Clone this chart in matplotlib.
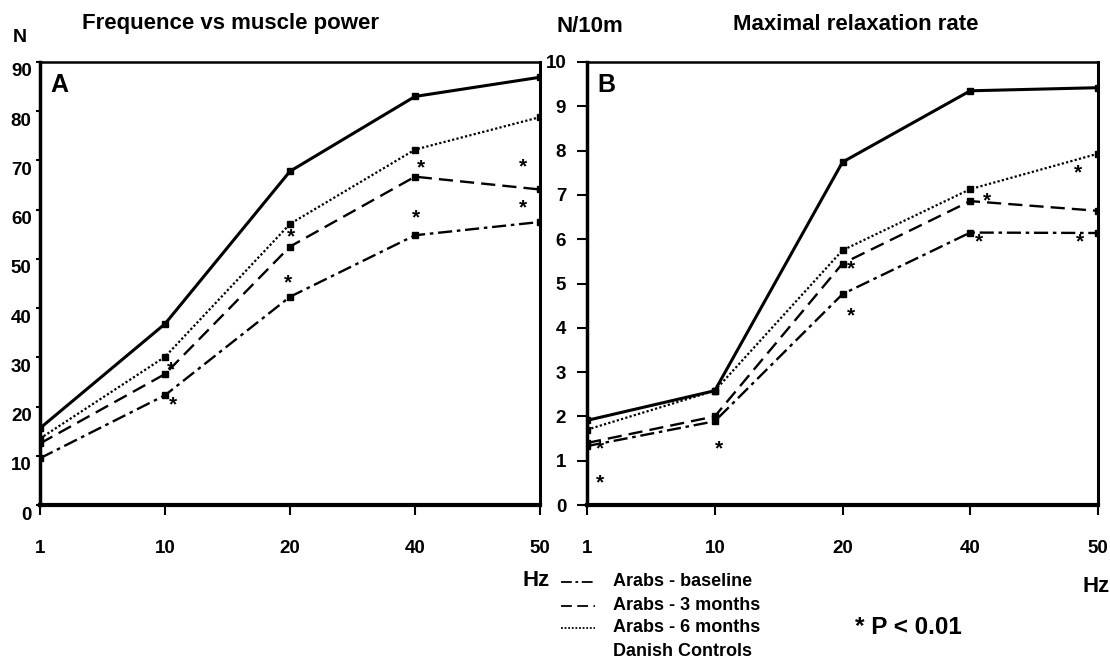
import matplotlib
matplotlib.use("Agg")
import matplotlib.pyplot as plt
from matplotlib.lines import Line2D
from matplotlib.transforms import ScaledTranslation

plt.rcParams['font.family'] = ['Liberation Sans', 'DejaVu Sans']
plt.rcParams['font.weight'] = 'bold'

freqs = ["1", "10", "20", "40", "50"]

# Panel A: muscle power (N)
a_danish = [15.6, 36.8, 67.8, 83.0, 86.9]
a_6m = [13.5, 30.1, 57.1, 72.2, 78.8]
a_3m = [12.5, 26.6, 52.5, 66.7, 64.1]
a_base = [9.5, 22.3, 42.3, 54.8, 57.5]
a_star_x = [1.05, 1.06, 2.01, 1.98, 3.05, 3.01, 3.86, 3.86]
a_star_y = [27.5, 20.3, 54.5, 45.1, 68.4, 58.4, 68.7, 60.4]

# Panel B: maximal relaxation rate (N/10m)
b_danish = [1.91, 2.58, 7.74, 9.35, 9.42]
b_6m = [1.70, 2.58, 5.75, 7.13, 7.93]
b_3m = [1.40, 2.00, 5.45, 6.86, 6.64]
b_base = [1.33, 1.89, 4.76, 6.15, 6.14]
b_star_x = [0.10, 0.10, 1.03, 2.07, 2.07, 3.13, 3.07, 3.84, 3.86]
b_star_y = [1.27, 0.51, 1.27, 5.32, 4.27, 6.86, 5.95, 7.50, 5.93]

styles = {
    'base': dict(ls=(0, (6, 2, 1.5, 2)), lw=1.7),
    '3m': dict(ls=(0, (6, 3)), lw=1.7),
    '6m': dict(ls=(0, (1, 1)), lw=1.6),
    'danish': dict(ls='-', lw=2.2),
}

W, H = 1110, 660
fig = plt.figure(figsize=(11.1, 6.6), dpi=100)
axA = fig.add_axes([40/W, 1-505/H, 500/W, 443/H])
axB = fig.add_axes([587/W, 1-505/H, 511/W, 443/H])

def draw(ax, series, ymax, yticks, sx, sy, ylen, ypad):
    x = list(range(len(freqs)))
    for key, vals in series:
        ax.plot(x, vals, color='black', marker='s', ms=5, mfc='black', mec='black',
                **styles[key])
    for xs, ys in zip(sx, sy):
        ax.text(xs, ys, '*', ha='center', va='center', fontsize=15, color='black')
    ax.set_xlim(0, 4)
    ax.set_ylim(0, ymax)
    ax.set_xticks(x)
    ax.set_xticklabels(freqs)
    ax.set_yticks(yticks)
    ax.set_yticklabels([str(v) for v in yticks])
    ax.tick_params(axis='x', direction='out', length=7, width=1.5, pad=18, labelsize=13.5)
    ax.tick_params(axis='y', direction='out', length=ylen, width=1.5, pad=ypad, labelsize=13.5)
    for lab in ax.get_xticklabels() + ax.get_yticklabels():
        lab.set_fontweight('bold')
    ax.spines['left'].set_linewidth(2.5)
    ax.spines['bottom'].set_linewidth(3)
    ax.spines['top'].set_linewidth(1.8)
    ax.spines['right'].set_linewidth(2.2)

draw(axA, [('base', a_base), ('3m', a_3m), ('6m', a_6m), ('danish', a_danish)],
     90, list(range(0, 91, 10)), a_star_x, a_star_y, 3, 3)
draw(axB, [('base', b_base), ('3m', b_3m), ('6m', b_6m), ('danish', b_danish)],
     10, list(range(0, 11)), b_star_x, b_star_y, 7, 8)

# panel A y labels sit slightly below their ticks
offset = ScaledTranslation(0, -8/100, fig.dpi_scale_trans)
for lab in axA.get_yticklabels():
    lab.set_transform(lab.get_transform() + offset)

axA.text(0.02, 0.975, 'A', transform=axA.transAxes, ha='left', va='top',
         fontsize=18, fontweight='bold')
axB.text(0.02, 0.975, 'B', transform=axB.transAxes, ha='left', va='top',
         fontsize=18, fontweight='bold')

def ftext(px, py, s, **kw):
    fig.text(px/W, 1-py/H, s, **kw)

ftext(20, 37, 'N', ha='center', va='center', fontsize=14, fontweight='bold')
ftext(230, 23, 'Frequence vs muscle power', ha='center', va='center', fontsize=16, fontweight='bold')
ftext(557, 27, 'N/10m', ha='left', va='center', fontsize=16, fontweight='bold')
ftext(856, 25, 'Maximal relaxation rate', ha='center', va='center', fontsize=16, fontweight='bold')
ftext(536, 581, 'Hz', ha='center', va='center', fontsize=16, fontweight='bold')
ftext(1096, 586, 'Hz', ha='center', va='center', fontsize=16, fontweight='bold')

legend_items = [('base', 'Arabs - baseline', 582), ('3m', 'Arabs - 3 months', 606),
                ('6m', 'Arabs - 6 months', 628), (None, 'Danish Controls', 652)]
for key, label, py in legend_items:
    if key is not None:
        st = dict(styles[key])
        st['lw'] = 1.3
        fig.add_artist(Line2D([561/W, 595/W], [1-py/H, 1-py/H],
                              color='black', transform=fig.transFigure, **st))
    ftext(613, py, label, ha='left', va='center', fontsize=13, fontweight='bold')

ftext(855, 627, '* P < 0.01', ha='left', va='center', fontsize=17.5, fontweight='bold')

fig.savefig('out.png', dpi=100)
